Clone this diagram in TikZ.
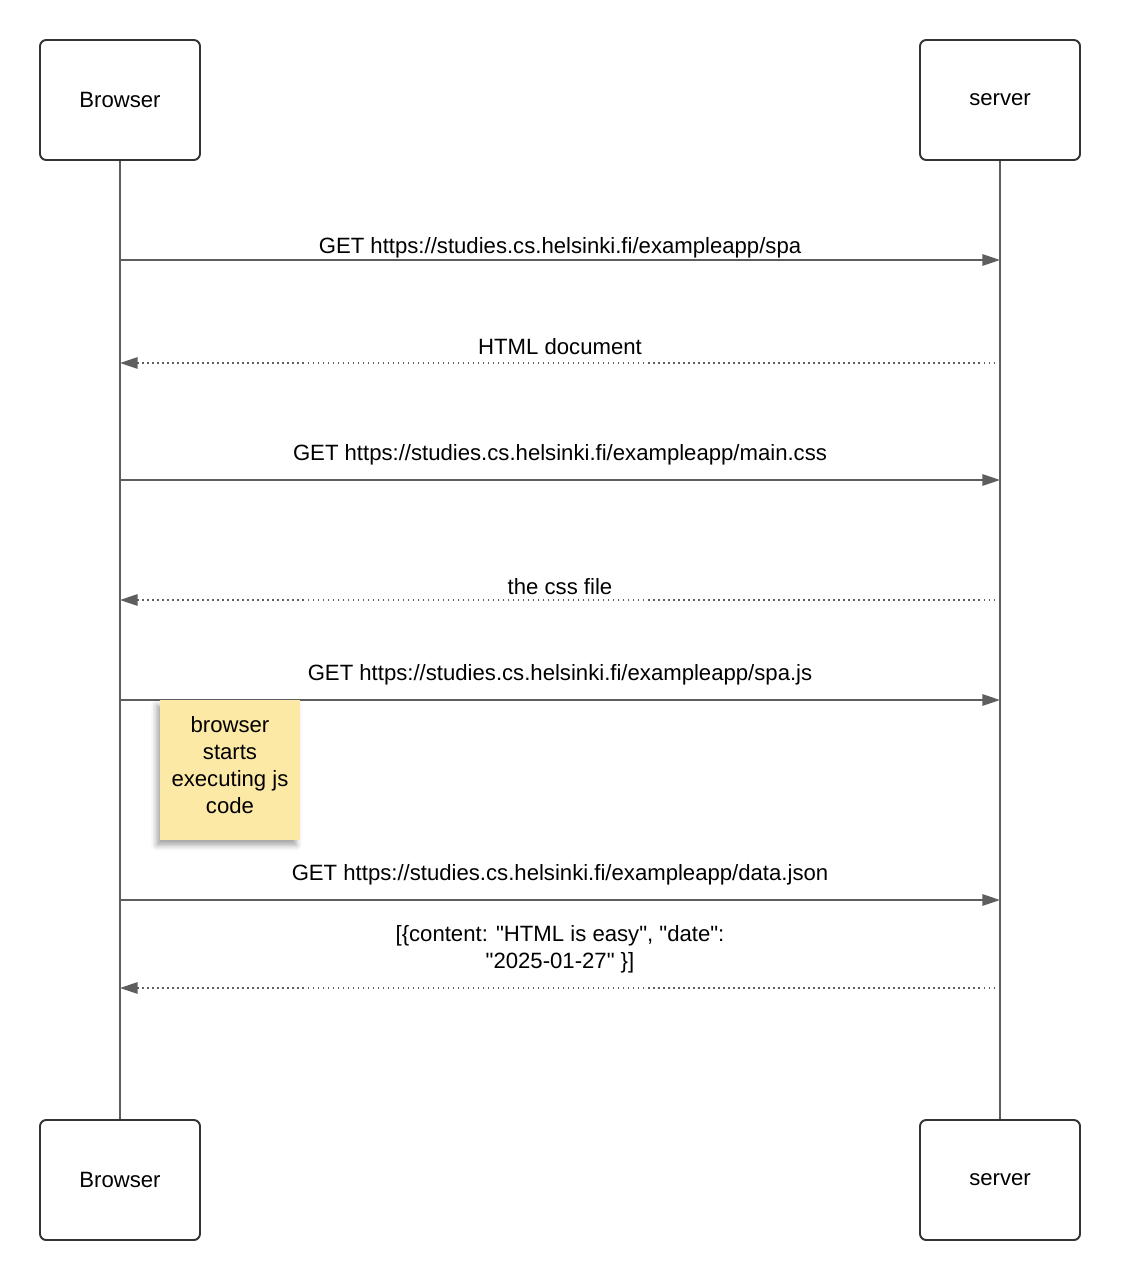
\documentclass[tikz,border=0pt]{standalone}
\usepackage{fontspec}
\setmainfont{Liberation Sans}[Ligatures=TeXOff]
\usetikzlibrary{arrows.meta,shadows.blur}
\definecolor{linegray}{RGB}{94,94,94}
\definecolor{boxgray}{RGB}{51,51,51}
\definecolor{notefill}{RGB}{253,233,166}

\begin{document}
\begin{tikzpicture}[x=0.02cm,y=-0.02cm,
        every node/.style={font=\fontsize{12.6}{15.3}\selectfont},
        actor/.style={draw=boxgray,line width=1.1pt,rounded corners=3.5pt,minimum width=3.2cm,minimum height=2.4cm},
        lifeline/.style={draw=linegray,line width=1.1pt},
        call/.style={draw=linegray,line width=0.85pt,-{Triangle[length=10pt,width=6.5pt]}},
        reply/.style={call,dotted},
        msglabel/.style={align=center,inner sep=0pt,anchor=base},
        note/.style={fill=notefill,align=center,minimum width=2.8cm,minimum height=2.8cm,text depth=5.6pt,
            blur shadow={shadow xshift=-2pt,shadow yshift=-3pt,shadow blur radius=3pt,shadow opacity=35}}]
        \useasboundingbox (0,0) rectangle (1120,1280);

        % actors
        \node[actor] (browser) at (120,100) {Browser};
        \node[actor] (server) at (1000,100) {server};
        \node[actor] (browserB) at (120,1180) {Browser};
        \node[actor] (serverB) at (1000,1180) {server};
        \draw[lifeline] (browser) -- (browserB);
        \draw[lifeline] (server) -- (serverB);

        % requests
        \foreach \i/\y/\ty/\txt in {1/260/254/{GET https://studies.cs.helsinki.fi/exampleapp/spa},
                3/480/460.5/{GET https://studies.cs.helsinki.fi/exampleapp/main.css},
                5/700/680.5/{GET https://studies.cs.helsinki.fi/exampleapp/spa.js},
                6/900/880.5/{GET https://studies.cs.helsinki.fi/exampleapp/data.json}} {
            \coordinate (b\i) at (browser |- 0,\y);
            \coordinate (s\i) at (server |- 0,\y);
            \draw[call] (b\i) -- (s\i);
            \node[msglabel] (m\i) at (560,\ty) {\txt};
        }

        % responses
        \foreach \i/\y/\ty/\txt in {2/363/354.5/{HTML document},
                4/600/594.5/{the css file}} {
            \coordinate (b\i) at (browser |- 0,\y);
            \coordinate (s\i) at (server |- 0,\y);
            \draw[reply] (s\i) -- (b\i);
            \node[msglabel] (m\i) at (560,\ty) {\txt};
        }
        \coordinate (b7) at (browser |- 0,988);
        \coordinate (s7) at (server |- 0,988);
        \draw[reply] (s7) -- (b7);
        \node[msglabel,anchor=center] (m7) at (560,949) {[\{content: "HTML is easy", "date":\\"2025-01-27" \}]};

        \node[note] (jsnote) at (230,770) {browser\\starts\\executing js\\code};
    \end{tikzpicture}
\end{document}
